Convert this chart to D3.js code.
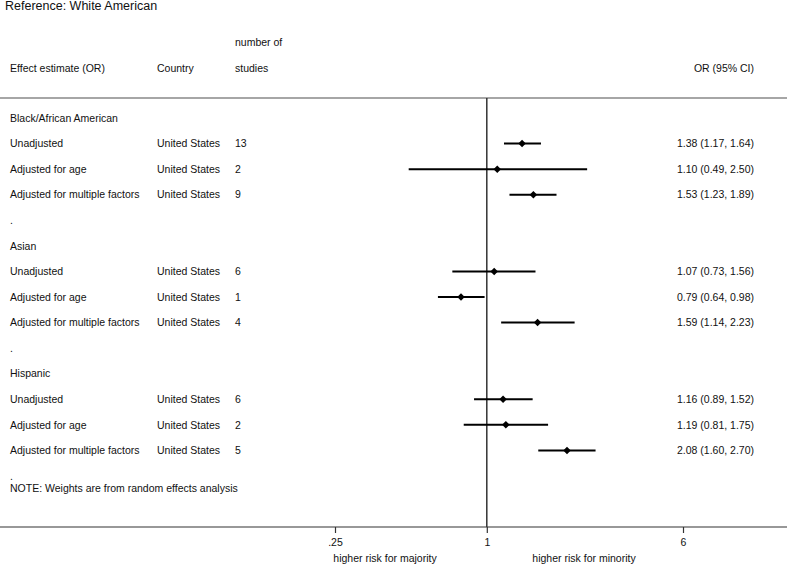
<!DOCTYPE html>
<html lang="en">
<head>
<meta charset="UTF-8">
<title>Forest plot</title>
<script src="https://cdnjs.cloudflare.com/ajax/libs/d3/7.8.5/d3.min.js"></script>
<style>
  body { margin: 0; background: #fff; }
  svg text { font-family: "Liberation Sans", Arial, Helvetica, sans-serif; font-size: 10.5px; fill: #111; }
</style>
</head>
<body>
<svg id="chart" width="787" height="568"></svg>
<script>
    // row labels, top to bottom ("group" = section header, "gap" = the "." spacer)
    const labels = [
        "Black/African American", "Unadjusted", "Adjusted for age", "Adjusted for multiple factors", ".",
        "Asian", "Unadjusted", "Adjusted for age", "Adjusted for multiple factors", ".",
        "Hispanic", "Unadjusted", "Adjusted for age", "Adjusted for multiple factors", "."
    ];
    const rowTypes = ["group", "est", "est", "est", "gap",
                      "group", "est", "est", "est", "gap",
                      "group", "est", "est", "est", "gap"];
    const countries = ["", "United States", "United States", "United States", "",
                       "", "United States", "United States", "United States", "",
                       "", "United States", "United States", "United States", ""];
    const nStudies = [null, 13, 2, 9, null, null, 6, 1, 4, null, null, 6, 2, 5, null];
    const orValues = [null, 1.38, 1.10, 1.53, null, null, 1.07, 0.79, 1.59, null, null, 1.16, 1.19, 2.08, null];
    const ciLow    = [null, 1.17, 0.49, 1.23, null, null, 0.73, 0.64, 1.14, null, null, 0.89, 0.81, 1.60, null];
    const ciHigh   = [null, 1.64, 2.50, 1.89, null, null, 1.56, 0.98, 2.23, null, null, 1.52, 1.75, 2.70, null];
    const tickValues = [0.25, 1, 6];
    const tickLabels = [".25", "1", "6"];

    const width = 787, height = 568;
    const svg = d3.select("#chart");

    const x = d3.scaleLog().domain([0.25, 6]).range([335, 683]);
    const y = d3.scaleLinear().domain([0, labels.length - 1]).range([118, 476]);

    const fmt = d3.format(".2f");
    const axisY = 527;

    // title
    svg.append("text").attr("x", 5).attr("y", 10)
        .style("font-size", "12.5px").text("Reference: White American");

    // column headers
    svg.append("text").attr("x", 235).attr("y", 42).attr("dy", "0.35em").text("number of");
    svg.append("text").attr("x", 10).attr("y", 68).attr("dy", "0.35em").text("Effect estimate (OR)");
    svg.append("text").attr("x", 157).attr("y", 68).attr("dy", "0.35em").text("Country");
    svg.append("text").attr("x", 235).attr("y", 68).attr("dy", "0.35em").text("studies");
    svg.append("text").attr("x", 754).attr("y", 68).attr("dy", "0.35em")
        .attr("text-anchor", "end").text("OR (95% CI)");

    // header rule
    svg.append("line").attr("x1", 0).attr("x2", width).attr("y1", 98).attr("y2", 98)
        .attr("stroke", "#888").attr("stroke-width", 1.5);

    // null line at OR = 1
    svg.append("line").attr("x1", x(1)).attr("x2", x(1)).attr("y1", 98).attr("y2", axisY)
        .attr("stroke", "#333").attr("stroke-width", 1.5);

    const rows = svg.append("g").selectAll("g")
        .data(labels.map((d, i) => ({
            label: d, type: rowTypes[i], country: countries[i], n: nStudies[i],
            or: orValues[i], lo: ciLow[i], hi: ciHigh[i], i: i
        })))
        .join("g")
        .attr("transform", d => `translate(0,${y(d.i)})`);

    rows.append("text").attr("x", 10).attr("dy", "0.35em").text(d => d.label);
    rows.filter(d => d.type === "est").each(function(d) {
        const g = d3.select(this);
        g.append("text").attr("x", 157).attr("dy", "0.35em").text(d.country);
        g.append("text").attr("x", 235).attr("dy", "0.35em").text(d.n);
        g.append("text").attr("x", 754).attr("dy", "0.35em").attr("text-anchor", "end")
            .text(`${fmt(d.or)} (${fmt(d.lo)}, ${fmt(d.hi)})`);
        g.append("line").attr("x1", x(d.lo)).attr("x2", x(d.hi))
            .attr("stroke", "#000").attr("stroke-width", 2);
        g.append("path")
            .attr("d", d3.symbol(d3.symbolDiamond2, 36)())
            .attr("transform", `translate(${x(d.or)},0)`)
            .attr("fill", "#000");
    });

    // note
    svg.append("text").attr("x", 10).attr("y", 488).attr("dy", "0.35em")
        .text("NOTE: Weights are from random effects analysis");

    // x axis
    svg.append("line").attr("x1", 0).attr("x2", width).attr("y1", axisY).attr("y2", axisY)
        .attr("stroke", "#333").attr("stroke-width", 1.2);
    const axis = d3.axisBottom(x).tickValues(tickValues)
        .tickFormat((d, i) => tickLabels[i]).tickSize(6).tickPadding(6);
    const ax = svg.append("g").attr("transform", `translate(0,${axisY})`).call(axis);
    ax.select(".domain").remove();
    ax.selectAll(".tick line").attr("stroke", "#333").attr("stroke-width", 1.2);
    ax.selectAll(".tick text").style("font-family", "'Liberation Sans', Arial, sans-serif")
        .style("font-size", "10.5px").attr("fill", "#111");

    svg.append("text").attr("x", 385).attr("y", 558).attr("dy", "0.35em")
        .attr("text-anchor", "middle").text("higher risk for majority");
    svg.append("text").attr("x", 584).attr("y", 558).attr("dy", "0.35em")
        .attr("text-anchor", "middle").text("higher risk for minority");
</script>
</body>
</html>
